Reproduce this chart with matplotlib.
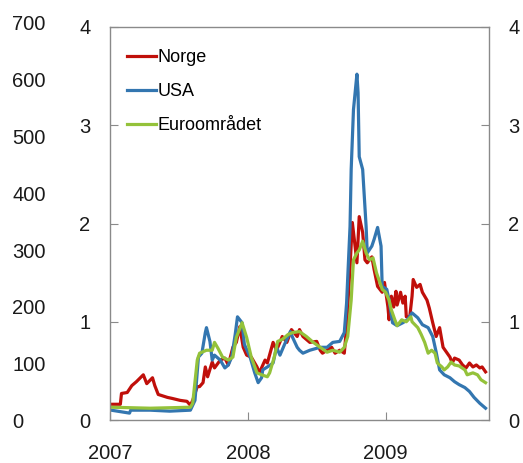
import matplotlib
matplotlib.use("Agg")
import matplotlib.pyplot as plt

plt.rcParams['font.family'] = ['Liberation Sans', 'DejaVu Sans']

# x: months since January 2007; y: values on 0-4 scale
norge_m = [0.1, 0.9, 1.0, 1.5, 1.9, 2.3, 2.9, 3.2, 3.7, 3.9, 4.2, 5.0, 5.4, 6.1, 6.7, 7.0, 7.2, 7.6, 7.8, 8.1,
           8.3, 8.5, 8.9, 9.1, 9.6, 10.0, 10.3, 10.7, 11.0, 11.3, 11.6, 11.9, 12.3, 12.8, 13.0, 13.5, 13.7, 14.2,
           14.5, 15.0, 15.4, 15.8, 16.3, 16.5, 16.8, 17.4, 18.0, 18.3, 18.5, 18.9, 19.3, 19.6, 20.0, 20.4, 20.6,
           20.9, 21.1, 21.3, 21.5, 21.7, 22.0, 22.2, 22.4, 22.8, 23.0, 23.3, 23.7, 23.9, 24.2, 24.3, 24.5, 24.7,
           24.9, 25.0, 25.3, 25.5, 25.7, 25.8, 26.1, 26.3, 26.4, 26.7, 27.0, 27.2, 27.6, 27.8, 28.1, 28.4, 28.7,
           29.0, 29.3, 29.6, 29.8, 30.0, 30.4, 30.7, 31.0, 31.3, 31.6, 31.9, 32.2, 32.4, 32.7]
norge_v = [0.16, 0.16, 0.27, 0.28, 0.35, 0.39, 0.46, 0.37, 0.43, 0.35, 0.26, 0.23, 0.22, 0.20, 0.19, 0.15, 0.20,
           0.34, 0.34, 0.38, 0.54, 0.44, 0.59, 0.53, 0.61, 0.63, 0.56, 0.74, 0.79, 0.95, 0.74, 0.66, 0.64, 0.54,
           0.48, 0.61, 0.58, 0.79, 0.71, 0.85, 0.79, 0.92, 0.85, 0.92, 0.85, 0.79, 0.80, 0.71, 0.68, 0.71, 0.74,
           0.68, 0.71, 0.68, 0.95, 1.56, 2.01, 1.81, 1.60, 2.07, 1.91, 1.63, 1.60, 1.66, 1.53, 1.36, 1.30, 1.40,
           1.15, 1.02, 1.26, 1.15, 1.31, 1.17, 1.30, 1.19, 1.26, 1.05, 1.05, 1.26, 1.43, 1.35, 1.38, 1.30, 1.22,
           1.14, 0.99, 0.85, 0.94, 0.74, 0.69, 0.64, 0.58, 0.63, 0.61, 0.56, 0.53, 0.58, 0.54, 0.56, 0.53, 0.54,
           0.49]

usa_m = [0.1, 1.7, 1.8, 3.5, 5.2, 7.0, 7.4, 7.7, 8.0, 8.3, 8.4, 8.7, 8.9, 9.1, 9.6, 10.0, 10.3, 10.6, 10.9,
         11.1, 11.5, 11.7, 12.2, 12.6, 12.9, 13.2, 13.3, 13.7, 14.2, 14.5, 14.8, 15.2, 15.7, 15.9, 16.3, 16.5,
         16.8, 17.4, 18.3, 18.9, 19.4, 20.0, 20.4, 20.6, 20.9, 21.0, 21.2, 21.5, 21.6, 21.7, 22.0, 22.3, 22.4,
         22.8, 23.0, 23.3, 23.6, 23.7, 24.1, 24.3, 24.6, 25.0, 25.5, 25.9, 26.3, 26.8, 27.2, 27.7, 28.1, 28.4,
         28.7, 29.1, 29.6, 30.0, 30.4, 30.9, 31.3, 31.7, 32.2, 32.7]
usa_v = [0.10, 0.07, 0.10, 0.10, 0.09, 0.10, 0.20, 0.64, 0.68, 0.89, 0.94, 0.80, 0.61, 0.66, 0.61, 0.53, 0.56,
         0.64, 0.87, 1.05, 0.99, 0.77, 0.64, 0.48, 0.38, 0.43, 0.51, 0.54, 0.58, 0.74, 0.66, 0.77, 0.90, 0.84,
         0.74, 0.71, 0.68, 0.71, 0.74, 0.74, 0.79, 0.80, 0.89, 1.19, 1.97, 2.55, 3.16, 3.52, 3.33, 2.68, 2.55,
         1.97, 1.70, 1.77, 1.84, 1.96, 1.77, 1.36, 1.33, 1.22, 0.99, 0.96, 0.99, 1.02, 1.09, 1.04, 0.97, 0.94,
         0.85, 0.69, 0.51, 0.46, 0.43, 0.39, 0.36, 0.33, 0.29, 0.23, 0.17, 0.12]

euro_m = [0.1, 3.5, 7.0, 7.2, 7.6, 7.8, 8.4, 8.9, 9.1, 9.4, 9.8, 10.3, 10.7, 11.0, 11.5, 11.9, 12.3, 12.8, 13.2,
          13.7, 13.9, 14.3, 14.6, 15.0, 15.5, 15.9, 16.5, 17.1, 17.7, 18.3, 18.9, 19.4, 20.0, 20.4, 20.7, 21.0,
          21.2, 21.5, 21.7, 22.0, 22.3, 22.6, 22.9, 23.2, 23.7, 24.0, 24.3, 24.5, 24.8, 25.0, 25.4, 25.8, 26.2,
          26.3, 26.8, 27.1, 27.4, 27.7, 28.0, 28.3, 28.5, 28.9, 29.1, 29.4, 29.7, 30.0, 30.4, 30.9, 31.1, 31.6,
          32.0, 32.3, 32.7]
euro_v = [0.13, 0.12, 0.13, 0.17, 0.61, 0.68, 0.71, 0.71, 0.79, 0.73, 0.64, 0.61, 0.64, 0.84, 0.99, 0.84, 0.64,
          0.48, 0.46, 0.44, 0.48, 0.64, 0.80, 0.82, 0.87, 0.89, 0.90, 0.85, 0.79, 0.74, 0.69, 0.71, 0.69, 0.74,
          0.85, 1.22, 1.63, 1.70, 1.73, 1.82, 1.70, 1.63, 1.65, 1.50, 1.33, 1.30, 1.22, 1.12, 1.02, 0.96, 1.02,
          1.00, 1.05, 1.00, 0.94, 0.87, 0.79, 0.68, 0.71, 0.68, 0.58, 0.54, 0.51, 0.54, 0.59, 0.56, 0.55, 0.51,
          0.46, 0.48, 0.46, 0.41, 0.38]

series_names = ["Norge", "USA", "Euroområdet"]
colors = ["#C00F0A", "#3376B0", "#94C23A"]

year_ticks = [0, 12, 24]
year_labels = ["2007", "2008", "2009"]
inner_ticks = [0, 1, 2, 3, 4]
outer_ticks = [0, 100, 200, 300, 400, 500, 600, 700]

W, H = 523, 463
fig = plt.figure(figsize=(W / 100, H / 100), dpi=100)

ax = fig.add_axes([110 / W, (H - 420) / H, (489 - 110) / W, (420 - 27) / H])
ax.set_xlim(0, 33.0)
ax.set_ylim(0, 4)

for m, v, c, n in zip([norge_m, usa_m, euro_m], [norge_v, usa_v, euro_v], colors, series_names):
    ax.plot(m, v, color=c, lw=2.3, label=n, solid_joinstyle='round')

gray = "#8a8a8a"
for s in ax.spines.values():
    s.set_color(gray)
    s.set_linewidth(1.0)

ax.set_yticks(inner_ticks)
ax.set_yticklabels([str(t) for t in inner_ticks])
ax.tick_params(axis='y', direction='in', length=6, color=gray, labelsize=14.5,
               left=True, right=True, labelleft=True, labelright=True, pad=14)
ax.set_xticks(year_ticks)
ax.set_xticklabels(year_labels)
ax.tick_params(axis='x', direction='in', length=6, color=gray, labelsize=14.5, pad=17)
for lab in ax.get_yticklabels():
    lab.set_color("#1a1a1a")
for lab in ax.get_xticklabels():
    lab.set_color("#1a1a1a")

leg = ax.legend(loc='upper left', bbox_to_anchor=(127 / W, (H - 49) / H),
                bbox_transform=fig.transFigure, frameon=False, fontsize=13,
                handlelength=1.6, handletextpad=0.1, labelspacing=0.95,
                borderpad=0, borderaxespad=0)

# outer left scale 0-700
ax2 = fig.add_axes([12 / W, (H - 420.7) / H, 0.0001, (420.7 - 22.7) / H])
ax2.set_ylim(0, 700)
ax2.set_xticks([])
ax2.set_yticks(outer_ticks)
ax2.set_yticklabels([str(t) for t in outer_ticks])
ax2.yaxis.tick_right()
ax2.tick_params(axis='y', length=0, pad=0, labelsize=14.5, labelcolor="#1a1a1a")
for s in ax2.spines.values():
    s.set_visible(False)
ax2.patch.set_visible(False)

fig.savefig("out.png", dpi=100)
